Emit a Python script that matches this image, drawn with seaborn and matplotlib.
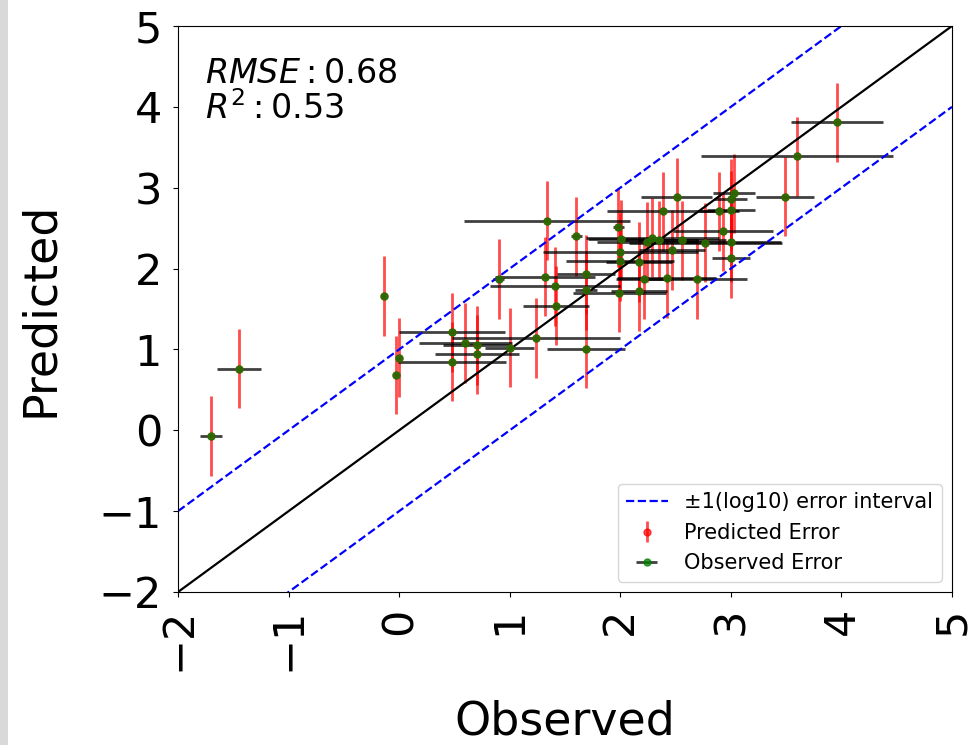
import matplotlib
matplotlib.use("Agg")
import matplotlib.pyplot as plt
import seaborn as sns
import pandas as pd
from matplotlib.patches import Rectangle
from matplotlib.lines import Line2D

# ---------------- data ----------------
observed = [-1.70, -1.45, -0.14, -0.03, 0.00,
            0.48, 0.60, 0.70, 0.70, 0.48, 1.00, 1.24, 1.69, 0.90, 1.32,
            1.41, 1.42, 1.69, 1.69, 1.34, 1.60, 1.98, 2.01, 2.00, 2.00,
            1.99, 2.17, 2.17, 2.21, 2.24, 2.29, 2.35, 2.39, 2.51, 2.47,
            2.42, 2.56, 2.69, 2.77, 3.60, 3.49, 3.03, 3.00, 2.89, 3.00,
            2.93, 3.00, 3.00, 3.96]
predicted = [-0.07, 0.76, 1.66, 0.68, 0.90,
             1.21, 1.08, 1.05, 0.94, 0.85, 1.02, 1.14, 1.01, 1.87, 1.90,
             1.78, 1.54, 1.93, 1.73, 2.59, 2.40, 2.51, 2.36, 2.20, 2.09,
             1.70, 2.08, 1.72, 1.87, 2.33, 2.38, 2.35, 2.71, 2.88, 2.23,
             1.88, 2.35, 1.87, 2.32, 3.39, 2.89, 2.93, 2.86, 2.71, 2.72,
             2.46, 2.33, 2.13, 3.81]
observed_err = [0.10, 0.20, 0.02, 0.02, 0.02,
                0.48, 0.42, 0.30, 0.38, 0.49, 0.22, 0.76, 0.35, 0.05, 0.45,
                0.59, 0.30, 0.26, 0.10, 0.75, 0.05, 0.05, 0.30, 0.70, 0.49,
                0.42, 0.30, 0.25, 0.25, 0.45, 0.60, 0.35, 0.51, 0.32, 0.30,
                0.45, 0.40, 0.46, 0.69, 0.87, 0.26, 0.19, 0.15, 0.18, 0.22,
                0.45, 0.45, 0.17, 0.42]
predicted_err = [0.49, 0.49, 0.49, 0.48, 0.49,
                 0.49, 0.49, 0.49, 0.49, 0.49, 0.49, 0.49, 0.49, 0.49, 0.49,
                 0.49, 0.49, 0.49, 0.49, 0.49, 0.49, 0.49, 0.49, 0.49, 0.49,
                 0.49, 0.49, 0.49, 0.49, 0.49, 0.49, 0.49, 0.49, 0.49, 0.49,
                 0.49, 0.49, 0.49, 0.49, 0.49, 0.49, 0.49, 0.49, 0.49, 0.49,
                 0.49, 0.49, 0.49, 0.49]
axis_limits = [-2, 5]
axis_ticks = [-2, -1, 0, 1, 2, 3, 4, 5]
interval_offsets = [-1, 1]
rmse_value = "0.68"
r2_value = "0.53"

# ---------------- figure ----------------
fig = plt.figure(figsize=(9.72, 7.45), dpi=100)
fig.patches.append(Rectangle((0, 0), 8 / 972, 1, transform=fig.transFigure,
                             facecolor="#d9d9d9", edgecolor="none", zorder=-5))
ax = fig.add_axes([178 / 972, 1 - 592 / 745, 774 / 972, 566 / 745])

pred_h = ax.errorbar(observed, predicted, yerr=predicted_err, fmt="o",
                     color="red", ms=5, elinewidth=2.0, alpha=0.7,
                     label="Predicted Error")
obs_h = ax.errorbar(observed, predicted, xerr=observed_err, fmt="o",
                    color="green", ecolor="black", ms=5, elinewidth=2.0,
                    alpha=0.75, label="Observed Error")

diag = pd.DataFrame({"x": axis_limits, "y": axis_limits})
sns.lineplot(data=diag, x="x", y="y", color="black", lw=1.6, ax=ax)
for off in interval_offsets:
    band = pd.DataFrame({"x": axis_limits, "y": [v + off for v in axis_limits]})
    sns.lineplot(data=band, x="x", y="y", color="blue", lw=1.6,
                 linestyle="--", ax=ax)

ax.set_xlim(axis_limits)
ax.set_ylim(axis_limits)
ax.set_xticks(axis_ticks)
ax.set_yticks(axis_ticks)
ax.tick_params(axis="both", labelsize=31, pad=8)
ax.tick_params(axis="x", labelrotation=90)
ax.set_xlabel("Observed", fontsize=33, labelpad=20)
ax.set_ylabel("Predicted", fontsize=33, labelpad=26)

ax.text(0.035, 0.945, "$RMSE: " + rmse_value + "$\n$R^2: " + r2_value + "$",
        transform=ax.transAxes, fontsize=24, va="top", ha="left",
        linespacing=1.05)

band_proxy = Line2D([], [], color="blue", lw=1.6, linestyle="--")
ax.legend([band_proxy, pred_h, obs_h],
          ["\u00b11(log10) error interval", "Predicted Error", "Observed Error"],
          loc="lower right", fontsize=15)

fig.savefig("out.png", dpi=100)
